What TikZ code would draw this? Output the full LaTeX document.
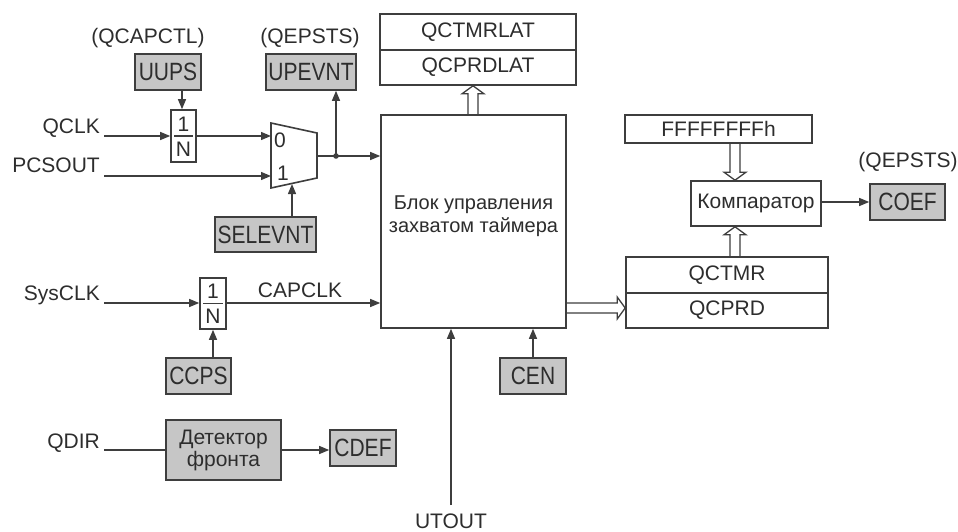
\documentclass[tikz,border=0pt]{standalone}
\usepackage{fontspec}
\setmainfont{Liberation Sans}
\newfontfamily\grayfont[FakeStretch=0.84]{Liberation Sans}
\usetikzlibrary{arrows.meta,calc}
\definecolor{ln}{RGB}{62,62,62}
\definecolor{gfill}{RGB}{198,198,198}
\definecolor{txt}{RGB}{45,45,45}
\begin{document}
\begin{tikzpicture}[x=1pt,y=-1pt,
  every node/.style={text=txt, font=\fontsize{21}{23}\selectfont, inner sep=0pt},
  wbox/.style={draw=ln, line width=1.6pt, fill=white, align=center},
  gbox/.style={draw=ln, line width=1.6pt, fill=gfill, align=center, font=\grayfont\fontsize{25}{27}\selectfont},
  conn/.style={draw=ln, line width=1.3pt},
  arr/.style={conn, -{Triangle[length=10pt,width=8pt]}},
  harr/.style={draw=ln, line width=1.3pt, line join=miter, to path={
    ($(\tikztostart)!5pt!90:(\tikztotarget)$) --
    ($($(\tikztotarget)!8pt!(\tikztostart)$)!5pt!90:(\tikztotarget)$) --
    ($($(\tikztotarget)!8pt!(\tikztostart)$)!11pt!90:(\tikztotarget)$) --
    (\tikztotarget) --
    ($($(\tikztotarget)!8pt!(\tikztostart)$)!11pt!-90:(\tikztotarget)$) --
    ($($(\tikztotarget)!8pt!(\tikztostart)$)!5pt!-90:(\tikztotarget)$) --
    ($(\tikztostart)!5pt!-90:(\tikztotarget)$)}},
  lbl/.style={anchor=base east}
]
\useasboundingbox (0,0) rectangle (958,532);

% top-left group
\node (qcapctl) at (148,38) {(QCAPCTL)};
\node[gbox, minimum width=66, minimum height=36] (uups) at (168,72) {UUPS};
\node[wbox, minimum width=25, minimum height=52] (div1) at (183.5,136) {};
\node (div1n) at (183.5,124) {1};
\node (div1d) at (183.5,149) {N};
\draw[ln, line width=1.1pt] ([xshift=4pt]div1.west) -- ([xshift=-4pt]div1.east);

\node[lbl] (qclk) at (100,134) {QCLK};
\node[lbl] (pcsout) at (100,172) {PCSOUT};
\coordinate (qclks) at (104,136);
\coordinate (pcss) at (104,176);

% mux
\coordinate (mtl) at (271,123);
\coordinate (mtr) at (317,133);
\coordinate (mbr) at (317,178);
\coordinate (mbl) at (271,188);
\draw[ln, line width=1.6pt, fill=white] (mtl) -- (mtr) -- (mbr) -- (mbl) -- cycle;
\coordinate (mux0) at (271,136);
\coordinate (mux1) at (271,176);
\coordinate (muxo) at (317,156);
\coordinate (muxs) at (292,184);
\node (m0) at (280,140) {0};
\node (m1) at (283,173) {1};

\node (qepsts1) at (310,38) {(QEPSTS)};
\node[gbox, minimum width=90, minimum height=36] (upevnt) at (311,72) {UPEVNT};
\node[gbox, minimum width=101, minimum height=35] (selevnt) at (265.5,234.5) {SELEVNT};

% main block
\node[wbox, minimum width=185, minimum height=213] (blk) at (473.5,221.5) {};
\node[align=center, font=\fontsize{20}{23}\selectfont] (blktxt) at (473.5,216) {Блок управления\\захватом таймера};

% latches
\node[wbox, minimum width=196, minimum height=36] (qctmrlat) at (478,32) {QCTMRLAT};
\node[wbox, minimum width=196, minimum height=35] (qcprdlat) at (478,67.5) {QCPRDLAT};

% right group
\node[wbox, minimum width=187, minimum height=28] (ffff) at (718.5,129) {FFFFFFFFh};
\node[wbox, minimum width=130, minimum height=45] (komp) at (756,203.5) {Компаратор};
\node (qepsts2) at (908,162) {(QEPSTS)};
\node[gbox, minimum width=75, minimum height=36] (coef) at (907.5,202) {COEF};
\node[wbox, minimum width=202, minimum height=36] (qctmr) at (727,275) {QCTMR};
\node[wbox, minimum width=202, minimum height=35] (qcprd) at (727,310.5) {QCPRD};

% lower-left group
\node[lbl] (sysclk) at (100,300) {SysCLK};
\coordinate (syss) at (104,303);
\node[wbox, minimum width=26, minimum height=51] (div2) at (213,303.5) {};
\node (div2n) at (213,291) {1};
\node (div2d) at (213,316.5) {N};
\draw[ln, line width=1.1pt] ([xshift=4pt]div2.west) -- ([xshift=-4pt]div2.east);
\node[anchor=base] (capclk) at (300,297) {CAPCLK};
\node[gbox, minimum width=65, minimum height=36] (ccps) at (198.5,376) {CCPS};

\node[lbl] (qdir) at (100,448) {QDIR};
\coordinate (qdirs) at (104,450);
\node[gbox, font=\fontsize{21}{22}\selectfont, minimum width=115, minimum height=60] (det) at (223.5,450) {Детектор\\фронта};
\node[gbox, minimum width=66, minimum height=36] (cdef) at (363,448) {CDEF};

\node[gbox, minimum width=66, minimum height=36] (cen) at (533,376) {CEN};
\node[anchor=base] (utout) at (451,528) {UTOUT};
\coordinate (utouts) at (451,505);

% connectors
\draw[arr] (uups.south -| 182,0) -- (div1.north -| 182,0);
\draw[arr] (qclks) -- (div1.west |- qclks);
\draw[arr] (div1.east |- mux0) -- (mux0);
\draw[arr] (pcss) -- (mux1);
\draw[arr] (selevnt.north -| muxs) -- (muxs);
\coordinate (dot) at (336,156);
\draw[conn] (muxo) -- (dot);
\draw[arr] (dot) -- (blk.west |- dot);
\draw[arr] (dot) -- (dot |- upevnt.south);
\fill[ln] (dot) circle (2.8pt);

\draw[arr] (syss) -- (div2.west |- syss);
\draw[arr] (div2.east |- syss) -- (blk.west |- syss);
\draw[arr] (ccps.north -| div2.south) -- (div2.south);

\draw[conn] (qdirs) -- (det.west |- qdirs);
\draw[arr] (det.east |- qdirs) -- (cdef.west |- qdirs);

\draw[arr] (utouts) -- (blk.south -| utouts);
\draw[arr] (cen.north) -- (blk.south -| cen.north);

\draw[arr] (komp.east |- coef) -- (coef.west);

% hollow bus arrows
\coordinate (b1s) at (blk.north -| 473,0);
\coordinate (b1t) at (qcprdlat.south -| 473,0);
\coordinate (b2s) at (ffff.south -| 735,0);
\coordinate (b2t) at (komp.north -| 735,0);
\coordinate (b3s) at (qctmr.north -| 735,0);
\coordinate (b3t) at (komp.south -| 735,0);
\coordinate (b4s) at (blk.east |- 0,308);
\coordinate (b4t) at (qcprd.west |- 0,308);
\draw[harr] (b1s) to (b1t);
\draw[harr] (b2s) to (b2t);
\draw[harr] (b3s) to (b3t);
\draw[harr] (b4s) to (b4t);
\end{tikzpicture}
\end{document}
